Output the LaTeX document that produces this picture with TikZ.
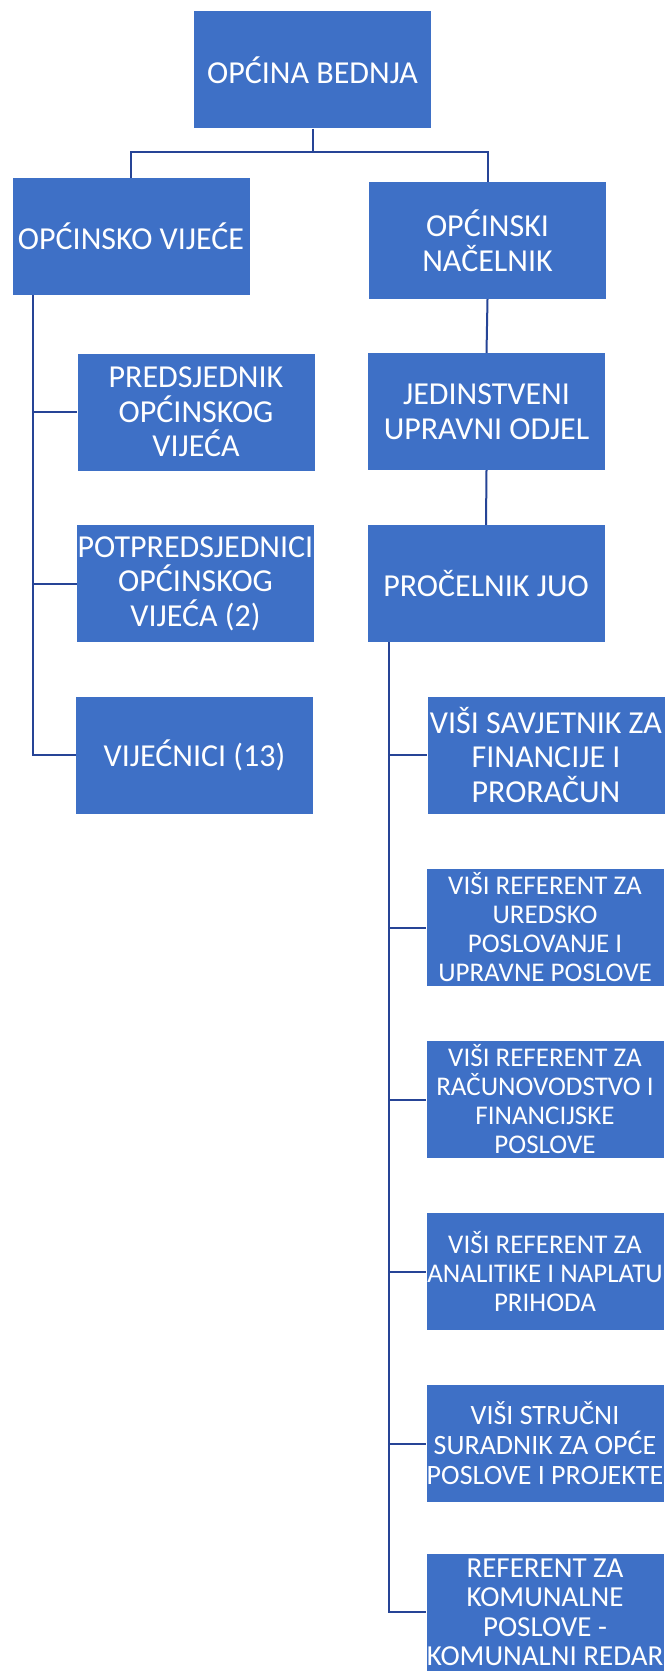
\documentclass[tikz,border=0pt]{standalone}
\usepackage{fontspec}
\setmainfont{Carlito}
\definecolor{boxblue}{RGB}{62,112,198}
\definecolor{lineblue}{RGB}{38,68,150}
\begin{document}
\begin{tikzpicture}[x=1pt,y=-1pt,
 box/.style={draw=none, fill=boxblue, text=white, minimum width=237pt, minimum height=117pt, align=center, inner sep=0pt, font=\fontsize{32}{34.5}\selectfont},
 sbox/.style={box, font=\fontsize{27}{29}\selectfont},
 mbox/.style={box, font=\fontsize{28}{30}\selectfont},
 lbox/.style={box, font=\fontsize{29}{29.5}\selectfont},
 conn/.style={draw=lineblue, line width=2pt}]
\useasboundingbox (0,0) rectangle (667,1672);
\clip (0,0) rectangle (667,1672);
\fill[white] (0,0) rectangle (667,1672);
% nodes
\node[box] (top) at (312.5,70) {OPĆINA BEDNJA};
\node[box] (ov) at (131,236.5) {OPĆINSKO VIJEĆE};
\node[box] (on) at (487.5,240.5) {OPĆINSKI\\NAČELNIK};
\node[box] (pred) at (196,412) {PREDSJEDNIK\\OPĆINSKOG\\VIJEĆA};
\node[box] (pot) at (195.5,583.5) {POTPREDSJEDNICI\\OPĆINSKOG\\VIJEĆA (2)};
\node[box] (vij) at (194.5,755) {VIJEĆNICI (13)};
\node[box] (jed) at (486.5,411.5) {JEDINSTVENI\\UPRAVNI ODJEL};
\node[box] (proc) at (486,583.5) {PROČELNIK JUO};
\node[box] (r1) at (546,755) {VIŠI SAVJETNIK ZA\\FINANCIJE I\\PRORAČUN};
\node[sbox] (r2) at (545,927.5) {VIŠI REFERENT ZA\\UREDSKO\\POSLOVANJE I\\UPRAVNE POSLOVE};
\node[sbox] (r3) at (545,1099.5) {VIŠI REFERENT ZA\\RAČUNOVODSTVO I\\FINANCIJSKE\\POSLOVE};
\node[sbox] (r4) at (545,1271.5) {VIŠI REFERENT ZA\\ANALITIKE I NAPLATU\\PRIHODA};
\node[mbox] (r5) at (545,1443.5) {VIŠI STRUČNI\\SURADNIK ZA OPĆE\\POSLOVE I PROJEKTE};
\node[lbox, text depth=0pt] (r6) at (545,1612) {REFERENT ZA\\KOMUNALNE\\POSLOVE -\\KOMUNALNI REDAR};
% connectors
\coordinate (j) at (312.5,152);
\draw[conn] (top.south) -- (j) -| (ov.north);
\draw[conn] (j) -| (on.north);
\coordinate (lb) at (33,295);
\draw[conn] (lb) |- (vij.west);
\draw[conn] (lb |- pred.west) -- (pred.west);
\draw[conn] (lb |- pot.west) -- (pot.west);
\draw[conn] (on.south) -- (jed.north);
\draw[conn] (jed.south) -- (proc.north);
\coordinate (rb) at (389,642);
\draw[conn] (rb) |- (r6.west);
\draw[conn] (rb |- r1.west) -- (r1.west);
\draw[conn] (rb |- r2.west) -- (r2.west);
\draw[conn] (rb |- r3.west) -- (r3.west);
\draw[conn] (rb |- r4.west) -- (r4.west);
\draw[conn] (rb |- r5.west) -- (r5.west);
\end{tikzpicture}
\end{document}
